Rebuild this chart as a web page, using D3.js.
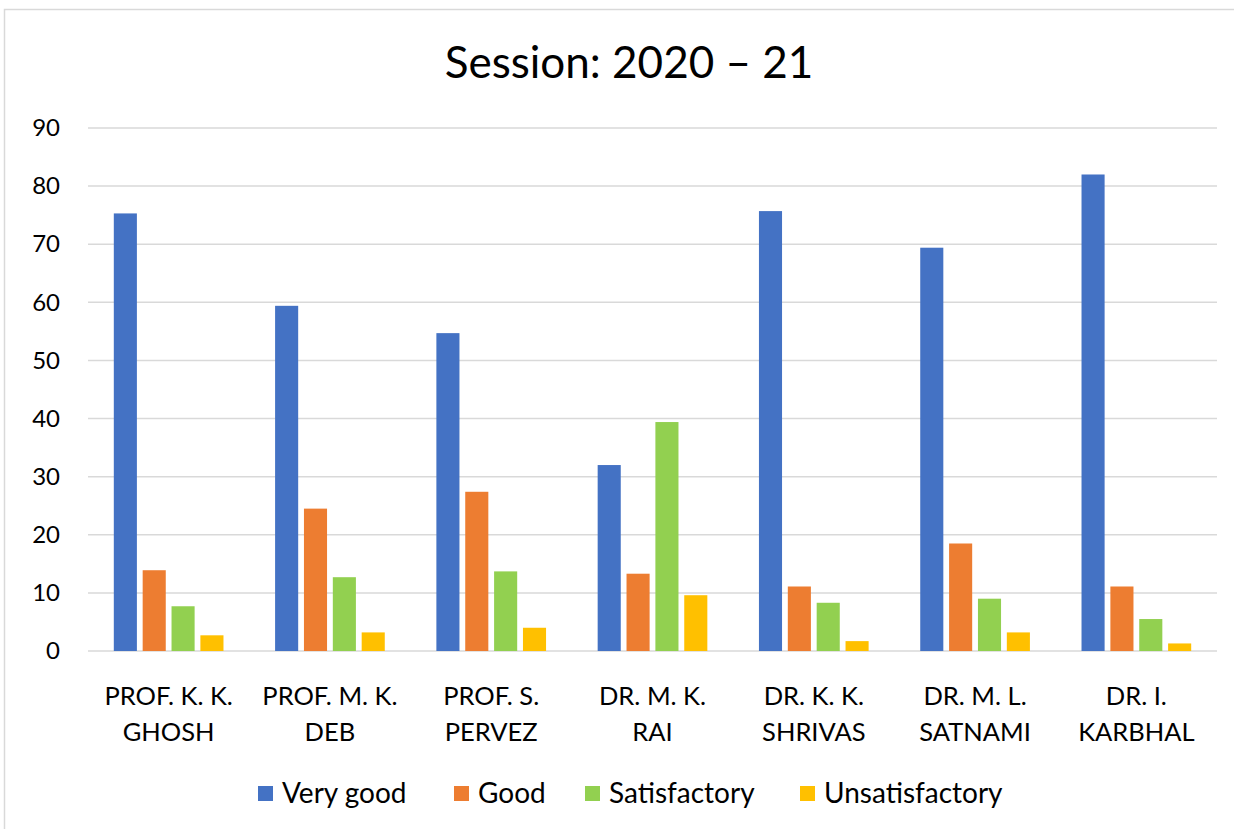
<!DOCTYPE html>
<html>
<head>
<meta charset="utf-8">
<script src="https://cdn.jsdelivr.net/npm/d3@7"></script>
<style>
  body { margin: 0; background: #fff; }
  text { font-family: Lato, "Open Sans", sans-serif; fill: #000; }
</style>
</head>
<body>
<div id="chart"></div>
<script>
// Session 2020-21 feedback chart, grouped bars per teacher

const teachers = [
    ["PROF. K. K.", "GHOSH"],
    ["PROF. M. K.", "DEB"],
    ["PROF. S.", "PERVEZ"],
    ["DR. M. K.", "RAI"],
    ["DR. K. K.", "SHRIVAS"],
    ["DR. M. L.", "SATNAMI"],
    ["DR. I.", "KARBHAL"]
];
const seriesNames = ["Very good", "Good", "Satisfactory", "Unsatisfactory"];
const veryGood = [75.3, 59.4, 54.7, 32.0, 75.7, 69.4, 82.0];
const good = [13.9, 24.5, 27.4, 13.3, 11.1, 18.5, 11.1];
const satisfactory = [7.7, 12.7, 13.7, 39.4, 8.3, 9.0, 5.5];
const unsatisfactory = [2.7, 3.2, 4.0, 9.6, 1.7, 3.2, 1.3];
const yTicks = [0, 10, 20, 30, 40, 50, 60, 70, 80, 90];
const colors = ["#4472C4", "#ED7D31", "#92D050", "#FFC000"];

const W = 1234, H = 829;
const plot = { left: 88, right: 1217, top: 128, bottom: 651 };

const svg = d3.select("#chart").append("svg")
    .attr("width", W)
    .attr("height", H);

// chart frame
svg.append("rect")
    .attr("x", 4.5).attr("y", 9.5)
    .attr("width", W).attr("height", H)
    .attr("fill", "#fff")
    .attr("stroke", "#d9d9d9")
    .attr("stroke-width", 1.5);

svg.append("text")
    .attr("x", 629)
    .attr("y", 78)
    .attr("text-anchor", "middle")
    .style("font-size", "44px")
    .text("Session: 2020 \u2013 21");

const y = d3.scaleLinear().domain([0, 90]).range([plot.bottom, plot.top]);

const x0 = d3.scaleBand()
    .domain(d3.range(teachers.length))
    .range([plot.left, plot.right])
    .paddingInner(0.32)
    .paddingOuter(0.16);

const x1 = d3.scaleBand()
    .domain(d3.range(seriesNames.length))
    .range([0, x0.bandwidth()])
    .paddingInner(0.2);

// gridlines
svg.append("g")
    .selectAll("line")
    .data(yTicks)
    .enter().append("line")
    .attr("x1", plot.left).attr("x2", plot.right)
    .attr("y1", d => y(d)).attr("y2", d => y(d))
    .attr("stroke", "#d9d9d9")
    .attr("stroke-width", 1.5);

// y axis labels
const yAxis = svg.append("g")
    .attr("transform", `translate(${plot.left},0)`)
    .call(d3.axisLeft(y).tickValues(yTicks).tickSize(0).tickPadding(28));
yAxis.select(".domain").remove();
yAxis.selectAll("text")
    .style("font-size", "24px")
    .style("font-family", "Lato, 'Open Sans', sans-serif")
    .attr("fill", "#000");

// bars
const allSeries = [veryGood, good, satisfactory, unsatisfactory];
const groups = svg.append("g")
    .selectAll("g")
    .data(teachers.map((t, i) => i))
    .enter().append("g")
    .attr("transform", i => `translate(${x0(i)},0)`);

groups.selectAll("rect")
    .data(i => allSeries.map((s, k) => ({ k: k, v: s[i] })))
    .enter().append("rect")
    .attr("x", d => x1(d.k))
    .attr("width", x1.bandwidth())
    .attr("y", d => y(d.v))
    .attr("height", d => y(0) - y(d.v))
    .attr("fill", d => colors[d.k]);

// category labels
const xAxis = svg.append("g");
teachers.forEach((lines, i) => {
    const cx = x0(i) + x0.bandwidth() / 2;
    const t = xAxis.append("text")
        .attr("text-anchor", "middle")
        .style("font-size", "25.5px");
    lines.forEach((ln, j) => {
        t.append("tspan")
            .attr("x", cx)
            .attr("y", 705 + j * 36)
            .text(ln);
    });
});

// legend
const legendX = [258, 454, 585, 800];
const legend = svg.append("g");
seriesNames.forEach((name, k) => {
    legend.append("rect")
        .attr("x", legendX[k])
        .attr("y", 786)
        .attr("width", 15)
        .attr("height", 15)
        .attr("fill", colors[k]);
    legend.append("text")
        .attr("x", legendX[k] + 24)
        .attr("y", 803)
        .style("font-size", "28px")
        .text(name);
});
</script>
</body>
</html>
